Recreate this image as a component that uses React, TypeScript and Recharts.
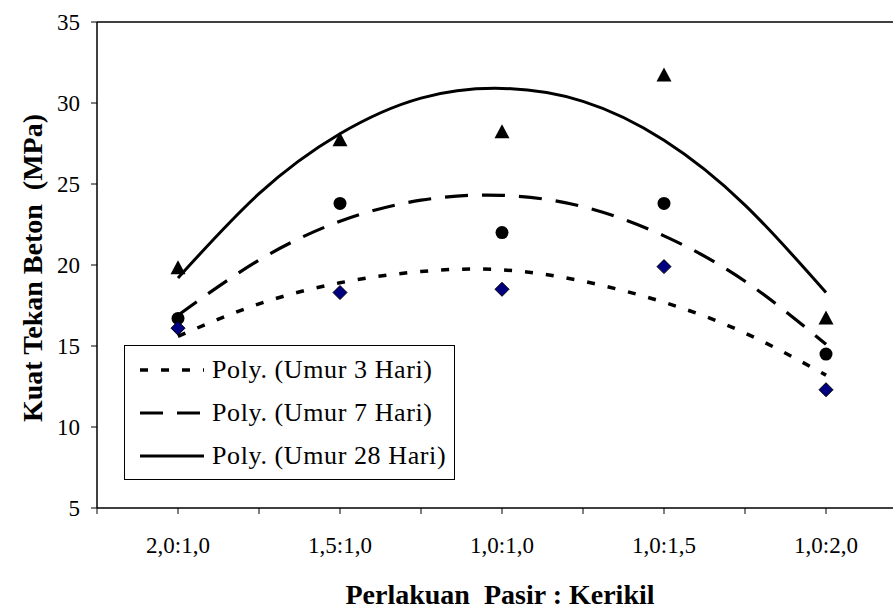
import React from "react";
import {
  ComposedChart,
  Line,
  Scatter,
  XAxis,
  YAxis,
  ReferenceLine,
  Legend,
} from "recharts";

// ---- data ----
const categories = ["2,0:1,0", "1,5:1,0", "1,0:1,0", "1,0:1,5", "1,0:2,0"];
const categoryPos = [1, 3, 5, 7, 9];

const umur3 = [16.1, 18.3, 18.5, 19.9, 12.3];
const umur7 = [16.7, 23.8, 22.0, 23.8, 14.5];
const umur28 = [19.8, 27.7, 28.2, 31.7, 16.7];

// trendline (Poly.) values at each tick position
const trendPos = [1, 2, 3, 4, 5, 6, 7, 8, 9];
const trend3 = [15.6, 17.6, 18.9, 19.6, 19.7, 19.0, 17.7, 15.8, 13.2];
const trend7 = [16.9, 20.3, 22.7, 24.0, 24.3, 23.6, 21.8, 19.0, 15.1];
const trend28 = [19.2, 24.4, 28.1, 30.3, 30.9, 30.1, 27.7, 23.7, 18.3];

const xTicks = [0, 1, 2, 3, 4, 5, 6, 7, 8, 9];
const yTicks = [5, 10, 15, 20, 25, 30, 35];

const legendItems = [
  { label: "Poly. (Umur 3 Hari)", dash: "8 13", width: 3.5 },
  { label: "Poly. (Umur 7 Hari)", dash: "23 14", width: 3.2 },
  { label: "Poly. (Umur 28 Hari)", dash: undefined as string | undefined, width: 3 },
];

const xTitle = "Perlakuan  Pasir : Kerikil";
const yTitle = "Kuat Tekan Beton  (MPa)";

// ---- derived tables ----
const trendRows = trendPos.map((x, i) => ({
  x,
  t3: trend3[i],
  t7: trend7[i],
  t28: trend28[i],
}));
const toPoints = (vals: number[]) =>
  categoryPos.map((x, i) => ({ x, y: vals[i] }));
const pts3 = toPoints(umur3);
const pts7 = toPoints(umur7);
const pts28 = toPoints(umur28);

const FONT = "'Liberation Serif', 'Times New Roman', serif";

const xLabel = (v: number) => {
  const idx = categoryPos.indexOf(v);
  return idx >= 0 ? categories[idx] : "";
};

const Diamond = (p: any) => {
  const { cx, cy } = p;
  if (cx == null || cy == null) return null;
  const r = 7;
  return (
    <polygon
      points={`${cx},${cy - r} ${cx + r},${cy} ${cx},${cy + r} ${cx - r},${cy}`}
      fill="#000080"
      stroke="#000"
      strokeWidth={1}
    />
  );
};
const Dot = (p: any) => {
  const { cx, cy } = p;
  if (cx == null || cy == null) return null;
  return <circle cx={cx} cy={cy} r={6.5} fill="#000" />;
};
const Tri = (p: any) => {
  const { cx, cy } = p;
  if (cx == null || cy == null) return null;
  return (
    <polygon
      points={`${cx},${cy - 8} ${cx + 7.5},${cy + 6} ${cx - 7.5},${cy + 6}`}
      fill="#000"
    />
  );
};

const LegendBox = () => (
  <div
    style={{
      width: 331,
      height: 135,
      boxSizing: "border-box",
      border: "1px solid #000",
      background: "#fff",
      paddingTop: 2,
      fontFamily: FONT,
      fontSize: 26,
      letterSpacing: 0.6,
      color: "#000",
    }}
  >
    {legendItems.map((it) => (
      <div
        key={it.label}
        style={{ height: 43, display: "flex", alignItems: "center" }}
      >
        <svg width={64} height={10} style={{ marginLeft: 15, flex: "none" }}>
          <line
            x1={0}
            y1={5}
            x2={64}
            y2={5}
            stroke="#000"
            strokeWidth={it.width}
            strokeDasharray={it.dash}
          />
        </svg>
        <span style={{ marginLeft: 8, whiteSpace: "nowrap", lineHeight: 1 }}>
          {it.label}
        </span>
      </div>
    ))}
  </div>
);

export default function App() {
  return (
    <div
      style={{
        position: "absolute",
        left: 0,
        top: 0,
        width: 893,
        height: 612,
        overflow: "hidden",
        background: "#fff",
      }}
    >
      <ComposedChart
        width={920}
        height={612}
        data={trendRows}
        margin={{ top: 22, left: 37, right: 13, bottom: 74 }}
        style={{ fontFamily: FONT }}
      >
        <XAxis
          type="number"
          dataKey="x"
          domain={[0, 10]}
          ticks={xTicks}
          interval={0}
          tickFormatter={xLabel}
          height={30}
          axisLine={{ stroke: "#000", strokeWidth: 1.5 }}
          tickLine={{ stroke: "#000", strokeWidth: 1 }}
          tickSize={6}
          tickMargin={23}
          tick={{ fill: "#000", fontSize: 23, fontFamily: FONT }}
        />
        <YAxis
          type="number"
          domain={[5, 35]}
          ticks={yTicks}
          interval={0}
          width={60}
          axisLine={{ stroke: "#000", strokeWidth: 1.5 }}
          tickLine={{ stroke: "#000", strokeWidth: 1 }}
          tickSize={6}
          tickMargin={11}
          tick={{ fill: "#000", fontSize: 23, fontFamily: FONT }}
        />
        <ReferenceLine y={35} stroke="#000" strokeWidth={1.5} />
        <Legend
          layout="horizontal"
          verticalAlign="middle"
          align="center"
          content={() => <LegendBox />}
          wrapperStyle={{ left: 124, top: 345, width: 331, height: 135 }}
        />
        <Line
          dataKey="t3"
          type="natural"
          stroke="#000"
          strokeWidth={3.5}
          strokeDasharray="8 13"
          dot={false}
          activeDot={false}
          isAnimationActive={false}
        />
        <Line
          dataKey="t7"
          type="natural"
          stroke="#000"
          strokeWidth={3.2}
          strokeDasharray="23 14"
          dot={false}
          activeDot={false}
          isAnimationActive={false}
        />
        <Line
          dataKey="t28"
          type="natural"
          stroke="#000"
          strokeWidth={3}
          dot={false}
          activeDot={false}
          isAnimationActive={false}
        />
        <Scatter
          data={pts28}
          dataKey="y"
          shape={(p: any) => <Tri {...p} />}
          isAnimationActive={false}
        />
        <Scatter
          data={pts7}
          dataKey="y"
          shape={(p: any) => <Dot {...p} />}
          isAnimationActive={false}
        />
        <Scatter
          data={pts3}
          dataKey="y"
          shape={(p: any) => <Diamond {...p} />}
          isAnimationActive={false}
        />
      </ComposedChart>
      <svg
        width={893}
        height={612}
        style={{ position: "absolute", left: 0, top: 0, pointerEvents: "none" }}
      >
        <text
          x={500}
          y={604}
          textAnchor="middle"
          fontFamily={FONT}
          fontWeight="bold"
          fontSize={28}
          fill="#000"
          style={{ whiteSpace: "pre" }}
        >
          {xTitle}
        </text>
        <text
          x={42}
          y={268}
          textAnchor="middle"
          fontFamily={FONT}
          fontWeight="bold"
          fontSize={28}
          fill="#000"
          transform="rotate(-90 42 268)"
          style={{ whiteSpace: "pre" }}
        >
          {yTitle}
        </text>
      </svg>
    </div>
  );
}
